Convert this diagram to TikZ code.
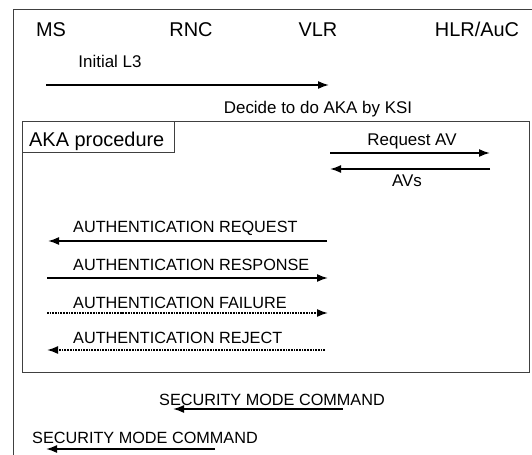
\documentclass[tikz,border=0pt]{standalone}
\usepackage{fontspec}
\setmainfont{Liberation Sans}
\usetikzlibrary{arrows.meta}
\tikzset{hdr/.style={font=\fontsize{20}{20}\selectfont},
  msg/.style={anchor=base west,font=\fontsize{16.3}{16.3}\selectfont},
  msgl/.style={anchor=base,font=\fontsize{17}{17}\selectfont},
  sig/.style={line width=1.7bp,->},
  frame/.style={black!75,line width=0.8bp}}

\begin{document}
\begin{tikzpicture}[x=1bp,y=-1bp,>={Latex[length=11bp,width=8bp]}]
\useasboundingbox (0,0) rectangle (532,455);
%
\draw[frame] (13,455) -- (13,9) -- (532,9);
\draw[frame] (22,121) rectangle (529,372);
\draw[frame] (22,121) rectangle (174,152);
%
\node[hdr,anchor=base] (ms) at (51,37) {MS};
\node[hdr,anchor=base] (rnc) at (191,37) {RNC};
\node[hdr,anchor=base] (vlr) at (318,37) {VLR};
\node[hdr,anchor=base] (hlr) at (477,37) {HLR/AuC};
%
\coordinate (l3a) at (46,85);
\coordinate (l3b) at (329,85);
\node[msgl] (l3) at (110,68) {Initial L3};
\draw[sig] (l3a) -- (l3b);
\node[msgl] (ksi) at (318,114) {Decide to do AKA by KSI};
%
\node[anchor=base west,font=\fontsize{20}{20}\selectfont,inner sep=0pt] (aka) at (29,147) {AKA procedure};
%
\coordinate (avra) at (330,153);
\coordinate (avrb) at (490,153);
\coordinate (avsa) at (490,169);
\coordinate (avsb) at (330,169);
\node[msgl] (reqav) at (412,146) {Request AV};
\node[msgl] (avs) at (407,187) {AVs};
\draw[sig] (avra) -- (avrb);
\draw[sig] (avsa) -- (avsb);
%
\coordinate (rqa) at (327,241);
\coordinate (rqb) at (48,241);
\coordinate (rsa) at (47,278);
\coordinate (rsb) at (328,278);
\coordinate (fla) at (47,313);
\coordinate (flb) at (328,313);
\coordinate (rja) at (325,350);
\coordinate (rjb) at (47,350);
\node[msg,inner sep=0pt] (req) at (73,233) {AUTHENTICATION REQUEST};
\node[msg,inner sep=0pt] (resp) at (73,270) {AUTHENTICATION RESPONSE};
\node[msg,inner sep=0pt] (fail) at (73,308) {AUTHENTICATION FAILURE};
\node[msg,inner sep=0pt] (rej) at (73,343) {AUTHENTICATION REJECT};
\draw[sig] (rqa) -- (rqb);
\draw[sig] (rsa) -- (rsb);
\draw[sig,densely dotted] (fla) -- (flb);
\draw[sig,densely dotted] (rja) -- (rjb);
%
\coordinate (smca) at (343,409);
\coordinate (smcb) at (173,409);
\coordinate (smcc) at (215,449);
\coordinate (smcd) at (46,449);
\node[msg,inner sep=0pt] (smc1) at (159,405) {SECURITY MODE COMMAND};
\node[msg,inner sep=0pt] (smc2) at (32,443) {SECURITY MODE COMMAND};
\draw[sig] (smca) -- (smcb);
\draw[sig] (smcc) -- (smcd);
\end{tikzpicture}
\end{document}
